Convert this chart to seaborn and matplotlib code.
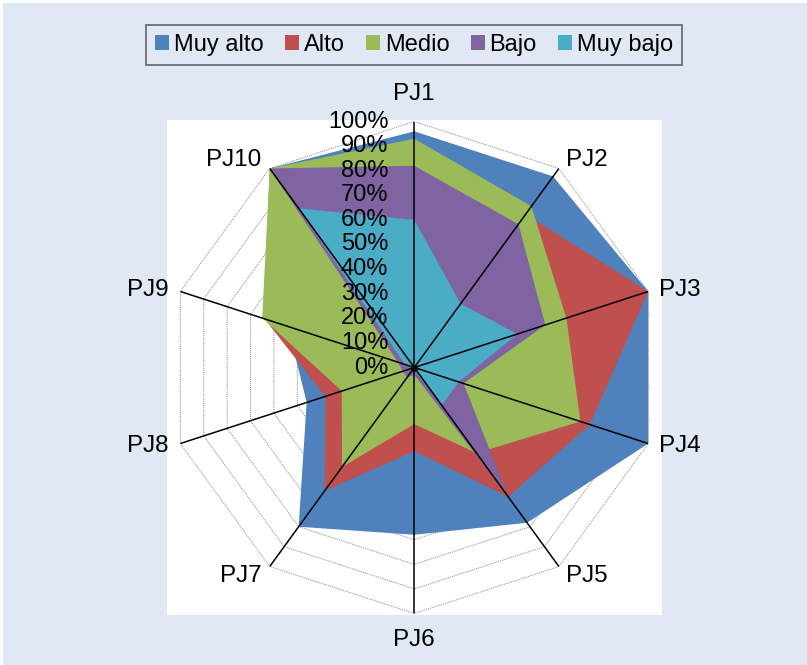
import numpy as np
import matplotlib
matplotlib.use("Agg")
import matplotlib.pyplot as plt
import matplotlib.patches as mpatches
import seaborn as sns

# --- DATOS (porcentajes) ---
categorias = ['PJ1', 'PJ2', 'PJ3', 'PJ4', 'PJ5', 'PJ6', 'PJ7', 'PJ8', 'PJ9', 'PJ10']
series = ['Muy alto', 'Alto', 'Medio', 'Bajo', 'Muy bajo']
muy_alto = [96, 96, 100, 100, 78, 68, 80, 46, 54, 100]
alto = [90, 77, 100, 75, 65, 34, 62, 38, 64, 100]
medio = [93, 81, 65, 71, 43, 23, 50, 31, 65, 100]
bajo = [82, 72, 56, 21, 65, 3, 5, 5, 7, 100]
muy_bajo = [60, 32, 44, 19, 19, 1, 1, 1, 4, 80]
ticks = [0, 10, 20, 30, 40, 50, 60, 70, 80, 90, 100]

colores = ['#4F81BD', '#C0504D', '#9BBB59', '#8064A2', '#4BACC6']
FONDO = '#dfe8f3'

sns.set_theme(style="white")
plt.rcParams['font.family'] = ['Liberation Sans', 'DejaVu Sans']
plt.rcParams['text.color'] = 'black'

fig = plt.figure(figsize=(8.07, 6.65), dpi=100, facecolor='white')
W, H = 807, 665

# fondo azul y area blanca del grafico
fig.patches.append(mpatches.Rectangle((3 / W, 0), 1 - 3 / W, 1 - 3 / H, transform=fig.transFigure,
                                      facecolor=FONDO, edgecolor='none', zorder=-10))
fig.patches.append(mpatches.Rectangle((167 / W, 1 - 615 / H), 495 / W, 495 / H, transform=fig.transFigure,
                                      facecolor='white', edgecolor='none', zorder=-9))

cx, cy, rad = 414.3, 367.5, 246
ax = fig.add_axes([(cx - rad) / W, (H - cy - rad) / H, 2 * rad / W, 2 * rad / H], projection='polar')
ax.set_zorder(1)
ax.patch.set_visible(False)
ax.set_theta_offset(np.pi / 2)
ax.set_theta_direction(-1)
ax.set_ylim(0, 100)
ax.grid(False)
ax.spines['polar'].set_visible(False)
ax.set_xticks([])
ax.set_yticks([])

theta = np.linspace(0, 2 * np.pi, len(categorias), endpoint=False)
theta_c = np.append(theta, theta[0])

# rejilla poligonal punteada
for t in ticks[1:]:
    ax.plot(theta_c, [t] * len(theta_c), color='#888888', lw=0.7, ls=(0, (1, 1)), zorder=1)

# areas rellenas
valores = [muy_alto, alto, medio, bajo, muy_bajo]
for i, (nombre, vals) in enumerate(zip(series, valores)):
    v = np.append(vals, vals[0])
    ax.fill(theta_c, v, color=colores[i], lw=0, zorder=2 + i, label=nombre)

# ejes radiales
for t in theta:
    ax.plot([t, t], [0, 100], color='black', lw=1.1, zorder=10)
ax.plot([0], [0], 'o', color='black', ms=4, zorder=11)

# etiquetas de porcentaje
for t in ticks:
    ax.annotate(f'{t}%', xy=(0, t), xytext=(-26, 0), textcoords='offset pixels',
                ha='right', va='center', fontsize=17, color='black', zorder=12)

# etiquetas de categorias
offsets = [(0, 27, 'center'), (7, 8, 'left'), (11, 1, 'left'), (11, -2, 'left'), (7, -9, 'left'),
           (0, -26, 'center'), (-8, -9, 'right'), (-12, -2, 'right'), (-12, 1, 'right'), (-8, 8, 'right')]
for t, nombre, (dx, dy, ha) in zip(theta, categorias, offsets):
    ax.annotate(nombre, xy=(t, 100), xytext=(dx, dy), textcoords='offset pixels',
                ha=ha, va='center', fontsize=17.5, color='black', annotation_clip=False)

handles = [mpatches.Patch(facecolor=c, edgecolor='none', label=s) for c, s in zip(colores, series)]
leg = fig.legend(handles=handles, loc='center', bbox_to_anchor=(414 / W, 1 - 45 / H), ncol=5,
                 fontsize=17, frameon=True, fancybox=False, handlelength=0.6, handleheight=0.6,
                 handletextpad=0.2, columnspacing=0.9, borderpad=0.4)
leg.get_frame().set_facecolor(FONDO)
leg.get_frame().set_edgecolor('#444444')
leg.get_frame().set_linewidth(1.2)
for txt in leg.get_texts():
    txt.set_color('black')

fig.savefig('out.png', dpi=100, facecolor=fig.get_facecolor())
